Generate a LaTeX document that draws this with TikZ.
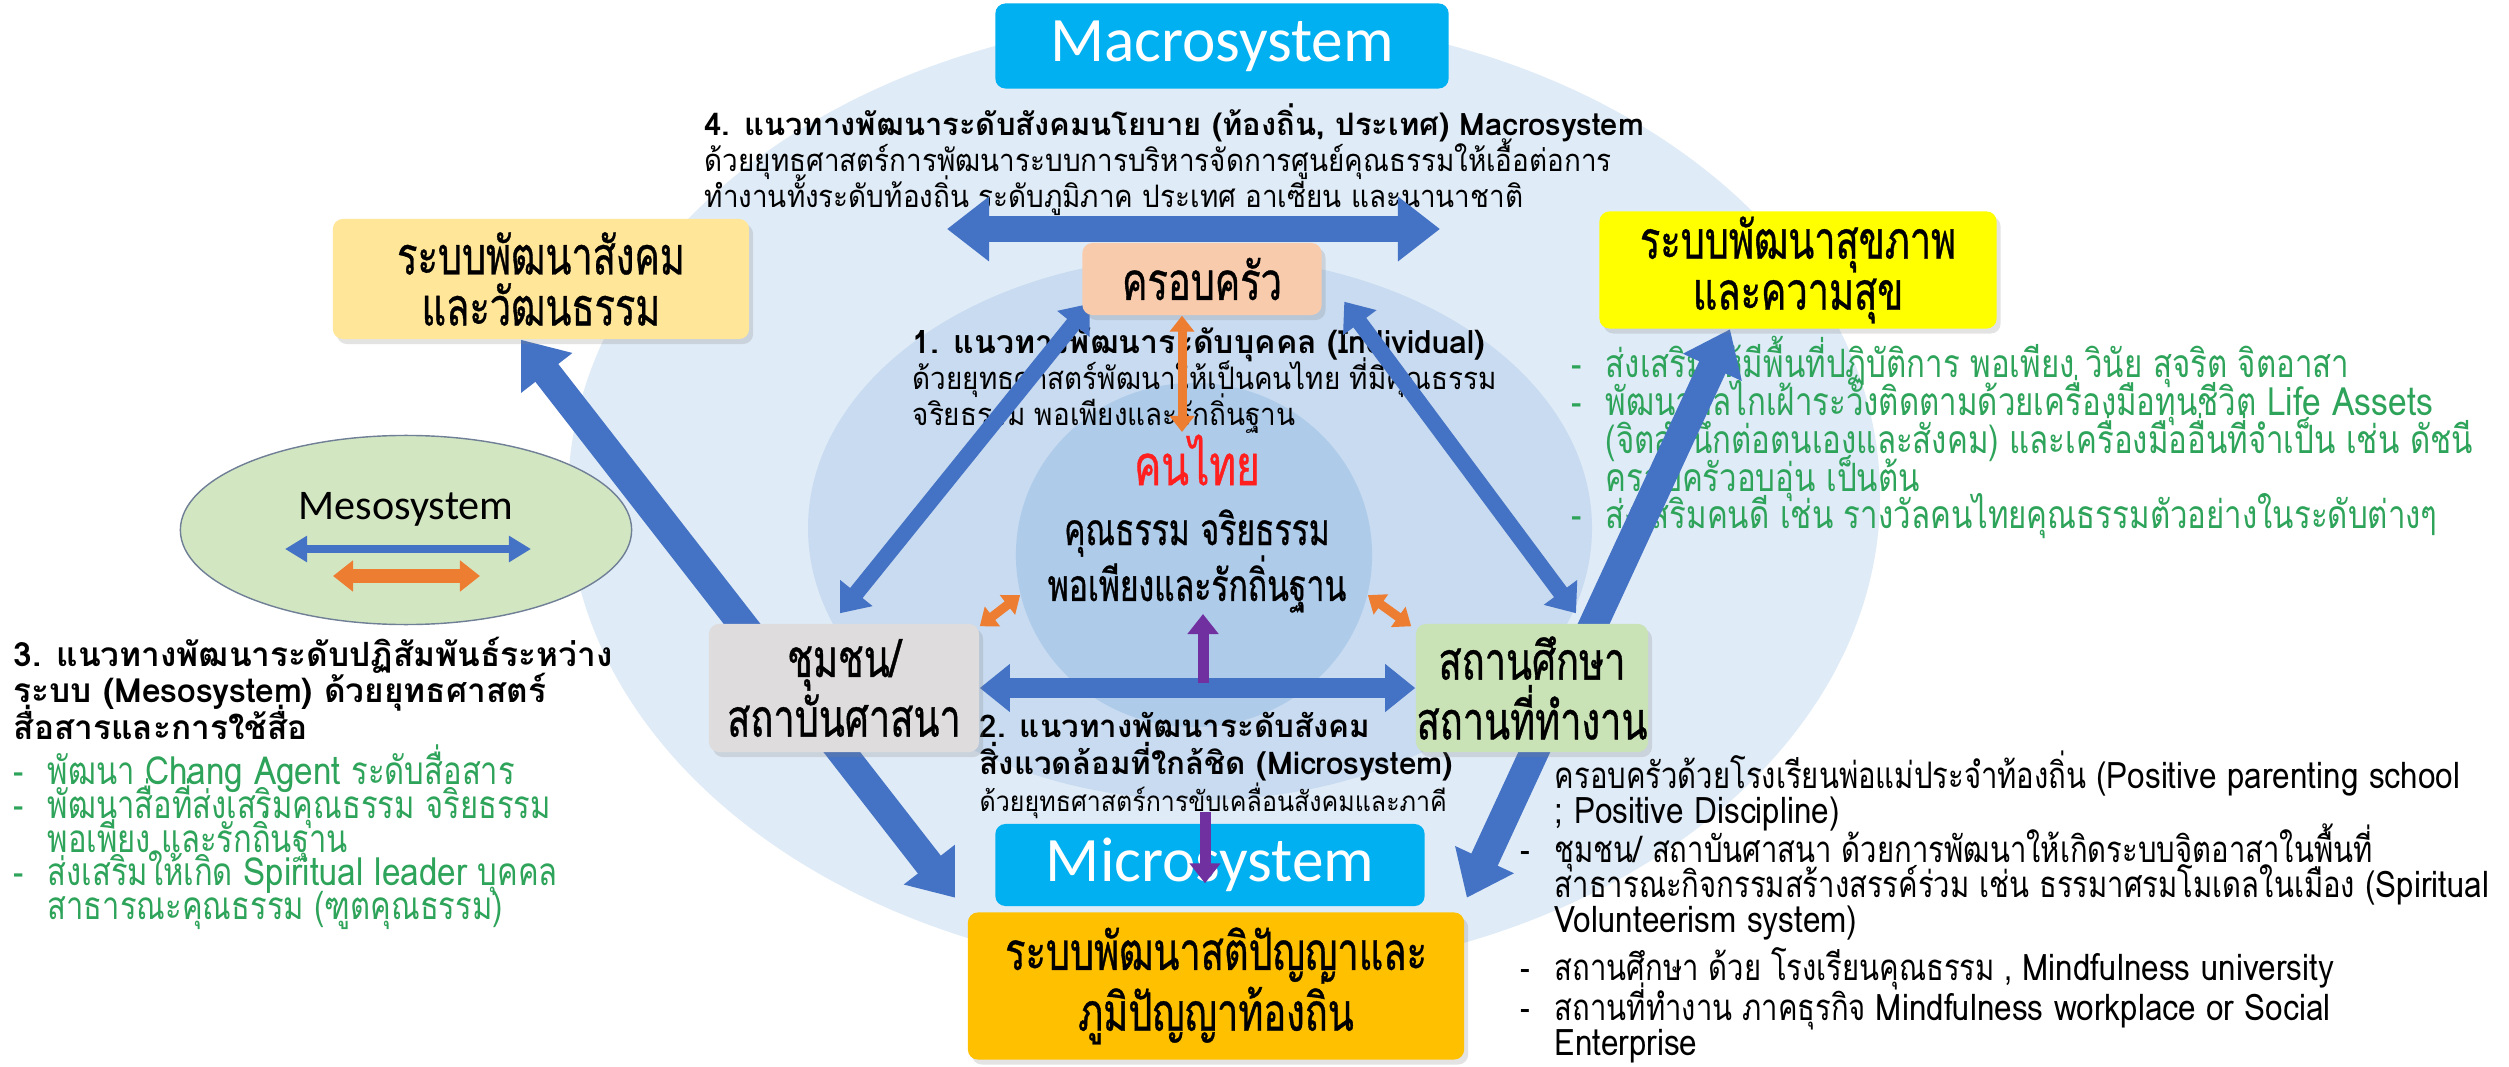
\documentclass[tikz,border=0pt]{standalone}
\usepackage{fontspec}
\setmainfont{Loma}[Script=Thai]
\newfontfamily\semithai{Loma}[Script=Thai,FakeStretch=0.9]
\newfontfamily\narrowthai{Loma}[Script=Thai,FakeStretch=0.8]
\newfontfamily\condthai{Loma}[Script=Thai,FakeStretch=0.72,FakeBold=0.7]
\newfontfamily\latinpart{Loma}[FakeStretch=0.86]
\newfontfamily\calibri{Carlito}
\usetikzlibrary{arrows.meta,shapes.geometric,calc,shadows}

\definecolor{outerblue}{HTML}{DFEBF7}
\definecolor{midblue}{HTML}{C8DBF0}
\definecolor{coreblue}{HTML}{AECBEA}
\definecolor{arrowblue}{HTML}{4472C4}
\definecolor{arroworange}{HTML}{ED7D31}
\definecolor{arrowpurple}{HTML}{7030A0}
\definecolor{syscyan}{HTML}{00B0F0}
\definecolor{socialfill}{HTML}{FFE699}
\definecolor{familyfill}{HTML}{F8CBAD}
\definecolor{healthfill}{HTML}{FFFF00}
\definecolor{communityfill}{HTML}{DEDCDC}
\definecolor{schoolfill}{HTML}{C9E2B6}
\definecolor{wisdomfill}{HTML}{FFC000}
\definecolor{mesofill}{HTML}{D3E6C2}
\definecolor{mesoline}{HTML}{6F7F96}
\definecolor{listgreen}{HTML}{2EA35A}
\definecolor{konred}{HTML}{FF1F1F}

\newcommand{\dashitem}{\makebox[0.34cm][l]{-}}
\newcommand{\hangon}{\hspace*{0.34cm}}
\newcommand{\headline}[1]{{\normalfont\bfseries #1}}
\newcommand{\lat}[1]{{\latinpart #1}}
\lineskiplimit=-100pt

\pgfdeclarelayer{back}
\pgfdeclarelayer{words}
\pgfdeclarelayer{arrowlayer}
\pgfdeclarelayer{front}
\pgfsetlayers{back,words,arrowlayer,main,front}

\begin{document}
\begin{tikzpicture}[x=0.01cm, y=-0.01cm,
    sysbox/.style={rounded corners=0.1cm, fill=syscyan, text=white, inner sep=0pt,
      font=\calibri\fontsize{18}{20}\selectfont},
    levelbox/.style={rounded corners=0.1cm, align=center, inner sep=0pt,
      drop shadow={opacity=0.22, shadow xshift=0.04cm, shadow yshift=-0.05cm},
      font=\condthai\fontsize{15}{17}\selectfont},
    note/.style={align=left, inner sep=0pt, anchor=north west,
      font=\semithai\fontsize{8.8}{10.2}\selectfont},
    greennote/.style={note, text=listgreen, font=\narrowthai\fontsize{11}{9.6}\selectfont},
    blacknote/.style={note, font=\narrowthai\fontsize{10.4}{10}\selectfont},
    wide/.style={draw=arrowblue, line width=0.29cm, >={Triangle[length=0.42cm,width=0.62cm]}, <->},
    mediumwide/.style={draw=arrowblue, line width=0.2cm, >={Triangle[length=0.3cm,width=0.46cm]}, <->},
    thinwide/.style={draw=arrowblue, line width=0.16cm, >={Triangle[length=0.26cm,width=0.4cm]}, <->},
    orangearrow/.style={draw=arroworange, line width=0.09cm, >={Triangle[length=0.16cm,width=0.24cm]}, <->},
    purplearrow/.style={draw=arrowpurple, line width=0.11cm, >={Triangle[length=0.2cm,width=0.3cm]}, ->}]

  \useasboundingbox (0,0) rectangle (2509,1067);

  \begin{pgfonlayer}{back}
    \fill[white] (0,0) rectangle (2509,1067);
    \fill[outerblue] (1224,496) ellipse [x radius=656, y radius=480];
    \fill[midblue] (1200,528) ellipse [x radius=392, y radius=272];
    \node[ellipse, fill=coreblue, minimum width=3.56cm, minimum height=3.44cm, inner sep=0pt] (core) at (1194,555) {};
  \end{pgfonlayer}

  \node[sysbox, minimum width=4.53cm, minimum height=0.85cm] (macro) at (1222,46) {Macrosystem};
  \node[levelbox, fill=socialfill, minimum width=4.16cm, minimum height=1.2cm,
    font=\condthai\fontsize{15}{14.5}\selectfont] (social) at (541,279) {ระบบพัฒนาสังคม\\และวัฒนธรรม};
  \node[levelbox, fill=familyfill, minimum width=2.39cm, minimum height=0.72cm] (family) at (1202,279) {ครอบครัว};
  \node[levelbox, fill=healthfill, minimum width=3.97cm, minimum height=1.17cm,
    font=\condthai\fontsize{15}{14.5}\selectfont] (health) at (1798,270) {ระบบพัฒนาสุขภาพ\\และความสุข};
  \node[ellipse, draw=mesoline, fill=mesofill, minimum width=4.51cm, minimum height=1.89cm, inner sep=0pt] (meso) at (406,530) {};
  \node[font=\calibri\fontsize{12}{14}\selectfont] (mesoname) at (406,509) {Mesosystem};
  \node[levelbox, fill=communityfill, minimum width=2.7cm, minimum height=1.28cm] (community) at (844,688) {ชุมชน/\\สถาบันศาสนา};
  \node[levelbox, fill=schoolfill, minimum width=2.32cm, minimum height=1.28cm] (school) at (1532,688) {สถานศึกษา\\สถานที่ทำงาน};
  \node[sysbox, minimum width=4.29cm, minimum height=0.82cm] (micro) at (1210,865) {Microsystem};
  \node[levelbox, fill=wisdomfill, minimum width=4.96cm, minimum height=1.47cm,
    font=\condthai\fontsize{15}{17.3}\selectfont] (wisdom) at (1216,986) {ระบบพัฒนาสติปัญญาและ\\ภูมิปัญญาท้องถิ่น};

  \node[text=konred, font=\condthai\fontsize{16}{18}\selectfont] (konthai) at (1197,460) {คนไทย};
  \node[align=center, font=\condthai\fontsize{12.6}{15.9}\selectfont] (virtue) at (1197,561) {คุณธรรม จริยธรรม\\พอเพียงและรักถิ่นฐาน};

  \begin{pgfonlayer}{words}
    \node[note] (text4) at (704,103) {\headline{4. แนวทางพัฒนาระดับสังคมนโยบาย (ท้องถิ่น, ประเทศ) Macrosystem}\\
      ด้วยยุทธศาสตร์การพัฒนาระบบการบริหารจัดการศูนย์คุณธรรมให้เอื้อต่อการ\\
      ทำงานทั้งระดับท้องถิ่น ระดับภูมิภาค ประเทศ อาเซียน และนานาชาติ};
    \node[note, font=\semithai\fontsize{8.8}{10.2}\selectfont] (text1) at (912,327) {{\fontsize{9.1}{10.2}\selectfont\headline{1. แนวทางพัฒนาระดับบุคคล (Individual)}}\\
      ด้วยยุทธศาสตร์พัฒนาให้เป็นคนไทย ที่มีคุณธรรม\\
      จริยธรรม พอเพียงและรักถิ่นฐาน};
    \node[note, font=\semithai\fontsize{8.9}{10.4}\selectfont] (text2) at (979,712) {\headline{2. แนวทางพัฒนาระดับสังคม}\\
      \headline{สิ่งแวดล้อมที่ใกล้ชิด (Microsystem)}\\
      \fontsize{7.9}{10.4}\selectfont ด้วยยุทธศาสตร์การขับเคลื่อนสังคมและภาคี};
    \node[note, font=\fontsize{9.5}{10.4}\selectfont] (text3) at (13,636) {\headline{3. แนวทางพัฒนาระดับปฏิสัมพันธ์ระหว่าง}\\
      \headline{ระบบ (Mesosystem) ด้วยยุทธศาสตร์}\\
      \headline{สื่อสารและการใช้สื่อ}};
    \node[greennote] (list3) at (13,744) {\dashitem พัฒนา \lat{Chang Agent} ระดับสื่อสาร\\
      \dashitem พัฒนาสื่อที่ส่งเสริมคุณธรรม จริยธรรม\\
      \hangon พอเพียง และรักถิ่นฐาน\\
      \dashitem ส่งเสริมให้เกิด \lat{Spiritual leader} บุคคล\\
      \hangon สาธารณะคุณธรรม (ฑูตคุณธรรม)};
    \node[greennote, font=\narrowthai\fontsize{11.1}{10.8}\selectfont] (listhealth) at (1571,335) {\dashitem ส่งเสริมให้มีพื้นที่ปฏิบัติการ พอเพียง วินัย สุจริต จิตอาสา\\
      \dashitem พัฒนากลไกเฝ้าระวังติดตามด้วยเครื่องมือทุนชีวิต \lat{Life Assets}\\
      \hangon (จิตสำนึกต่อตนเองและสังคม) และเครื่องมืออื่นที่จำเป็น เช่น ดัชนี\\
      \hangon ครอบครัวอบอุ่น เป็นต้น\\
      \dashitem ส่งเสริมคนดี เช่น รางวัลคนไทยคุณธรรมตัวอย่างในระดับต่างๆ};
    \node[blacknote] (listmicro) at (1520,750) {\dashitem ครอบครัวด้วยโรงเรียนพ่อแม่ประจำท้องถิ่น \lat{(Positive parenting school}\\
      \hangon \lat{; Positive Discipline)}\\[1pt]
      \dashitem ชุมชน/ สถาบันศาสนา ด้วยการพัฒนาให้เกิดระบบจิตอาสาในพื้นที่\\
      \hangon สาธารณะกิจกรรมสร้างสรรค์ร่วม เช่น ธรรมาศรมโมเดลในเมือง \lat{(Spiritual}\\
      \hangon \lat{Volunteerism system)}\\[3.6pt]
      \dashitem สถานศึกษา ด้วย โรงเรียนคุณธรรม , \lat{Mindfulness university}\\[1.4pt]
      \dashitem สถานที่ทำงาน ภาคธุรกิจ \lat{Mindfulness workplace or Social}\\
      \hangon \lat{Enterprise}};
  \end{pgfonlayer}

  \coordinate (macroL) at (947,229);
  \coordinate (macroR) at (1440,229);
  \coordinate (indiv) at (1182,432);
  \coordinate (raiseL) at (1203,683);
  \coordinate (raiseT) at (1203,614);
  \coordinate (lowerL) at (1205,812);
  \coordinate (mesoblueL) at (285,549);
  \coordinate (mesoblueR) at (531,549);
  \coordinate (mesoorangeL) at (333,576);
  \coordinate (mesoorangeR) at (480,576);

  \begin{pgfonlayer}{arrowlayer}
    \draw[wide] ($(social.south)+(-20,0)$) -- ($(wisdom.north west)+(-12,-14)$);
    \draw[wide] ($(health.south)+(-68,0)$) -- ($(wisdom.north east)+(2,-14)$);
    \draw[wide, line width=0.26cm] (macroL) -- (macroR);
    \draw[thinwide] ($(family.south west)+(8,-12)$) -- ($(community.north)+(-4,-10)$);
    \draw[thinwide] ($(family.south east)+(22,-14)$) -- ($(school.north)+(44,-10)$);
    \draw[mediumwide] (community.east) -- (school.west);
  \end{pgfonlayer}

  \begin{pgfonlayer}{front}
    \draw[orangearrow] ($(family.south)+(-20,0)$) -- (indiv);
    \draw[orangearrow] ($(community.north east)+(0,3)$) -- (core.193);
    \draw[orangearrow] (core.347) -- ($(school.north west)+(-4,3)$);
    \draw[purplearrow] (raiseL) -- (raiseT);
    \draw[purplearrow] (lowerL) -- ($(micro.north)+(-5,60)$);
    \draw[draw=arrowblue, line width=0.08cm, >={Triangle[length=0.22cm,width=0.25cm]}, <->] (mesoblueL) -- (mesoblueR);
    \draw[draw=arroworange, line width=0.13cm, >={Triangle[length=0.2cm,width=0.3cm]}, <->] (mesoorangeL) -- (mesoorangeR);
  \end{pgfonlayer}
\end{tikzpicture}
\end{document}
